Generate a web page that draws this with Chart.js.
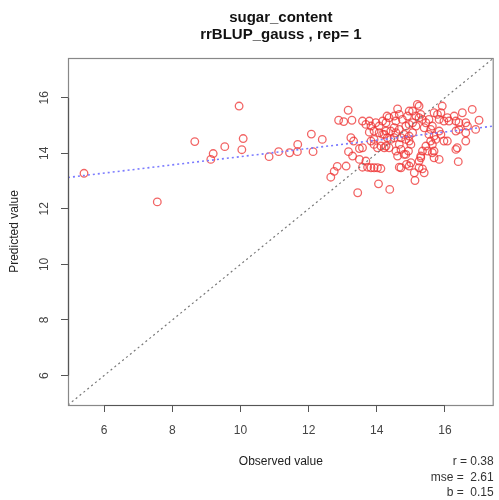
<!DOCTYPE html>
<html>
<head>
<meta charset="utf-8">
<script src="https://cdn.jsdelivr.net/npm/chart.js"></script>
<style>
  body { margin: 0; background: #fff; }
</style>
</head>
<body>
<canvas id="myChart" width="499" height="500"></canvas>
<script>
// values
const observed = [
  5.41, 7.56, 8.66, 9.13, 9.20, 9.54, 9.96, 10.08, 10.04,
  10.84, 11.12, 11.44, 11.68, 11.67, 12.08, 12.13, 12.40, 12.88, 13.03, 13.16, 13.10, 12.84, 12.75, 12.65, 13.17,
  13.27, 13.24, 13.32, 13.49, 13.58,
  13.58, 13.73, 13.83, 13.92, 14.02, 14.12,
  13.68, 13.44, 14.05, 14.38, 14.66,
  14.87, 14.95, 15.00, 15.10, 15.12, 15.24, 15.29, 15.39,
  14.85, 14.93, 14.66, 14.71, 14.36, 14.27, 14.22,
  13.92, 14.02, 14.12,
  13.78, 13.83, 13.97, 14.07, 14.17, 14.27, 14.30,
  13.92, 14.07, 14.17, 14.27,
  14.41, 14.51, 14.56, 14.66,
  14.61, 14.66, 14.75, 14.90, 14.95, 15.05, 15.19, 15.24, 15.15, 15.24,
  14.85, 14.95, 15.05, 15.15,
  14.80, 14.95, 15.05, 14.95, 15.00,
  15.29, 15.34, 15.44, 15.53, 15.39, 15.58, 15.63,
  15.68, 15.78, 15.88, 15.92, 15.83, 15.97, 16.07, 16.12,
  15.53, 15.68, 15.73, 15.58, 15.63, 15.44, 15.49, 15.68,
  15.97, 16.07, 15.83, 15.88,
  16.27, 16.32, 16.41, 16.51, 16.61, 16.66, 16.80, 17.00,
  16.32, 16.41, 16.61, 16.90,
  16.61, 16.36, 16.32, 16.39,
  15.83, 15.68, 15.24, 15.34,
  13.58, 13.68, 13.78,
  14.22, 14.31, 14.41, 14.51,
  14.85, 14.71,
  14.56, 14.51, 14.36,
  13.83, 13.92,
  13.49, 13.29,
  14.56, 14.61,
  14.80, 14.71, 15.29, 15.34, 15.63
];
const predicted = [
  13.28, 12.25, 14.42, 13.78, 13.99, 14.24, 15.70, 14.53, 14.13,
  13.88, 14.06, 14.02, 14.32, 14.06, 14.69, 14.06, 14.50, 15.19, 15.14, 15.55, 13.54, 13.53, 13.35, 13.14, 14.06,
  15.19, 14.56, 14.44, 14.17, 14.20,
  13.50, 13.50, 13.48, 13.48, 13.48, 13.45,
  13.72, 12.58, 12.90, 12.70, 13.50,
  13.60, 13.54, 13.66, 13.30, 13.02, 13.72, 13.90, 13.30,
  13.96, 14.08, 14.32, 14.14, 14.20, 14.26, 14.20,
  14.32, 14.20, 14.26,
  14.76, 14.98, 15.10, 14.98, 15.16, 15.10, 15.34,
  14.80, 14.74, 14.68, 14.80,
  14.80, 14.92, 14.74, 14.86,
  15.60, 15.40, 15.22, 15.34, 15.52, 15.52, 15.76, 15.70, 15.34, 15.28,
  14.98, 15.04, 15.10, 14.98,
  14.68, 14.62, 14.74, 14.44, 14.32,
  15.40, 15.22, 15.10, 15.22, 14.92, 14.86, 14.98,
  15.46, 15.40, 15.46, 15.70, 15.22, 15.16, 15.28, 15.16,
  14.68, 14.62, 14.50, 14.44, 14.32, 14.26, 14.08, 14.08,
  14.44, 14.44, 14.80, 14.68,
  15.34, 15.16, 15.10, 15.46, 15.10, 14.98, 15.58, 15.19,
  14.80, 14.86, 14.74, 14.86,
  14.44, 14.20, 14.14, 13.70,
  13.78, 13.84, 13.48, 13.44,
  15.16, 15.04, 15.16,
  14.68, 14.56, 14.50, 14.56,
  14.50, 14.56,
  15.16, 15.34, 15.28,
  14.44, 14.50,
  13.78, 13.90,
  14.08, 13.90,
  13.96, 13.48, 13.84, 14.08, 14.02
];

const axisMin = 4.94;
const axisMax = 17.43;
const xTicks = [6, 8, 10, 12, 14, 16];
const yTicks = [6, 8, 10, 12, 14, 16];

// dotted lines: identity and fitted line (ends)
const diagX = [axisMin, axisMax];
const diagY = [axisMin, axisMax];
const fitX = [axisMin, axisMax];
const fitY = [13.13, 14.98];

const titleLines = ['sugar_content', 'rrBLUP_gauss , rep= 1'];
const statLines = ['r = 0.38', 'mse =  2.61', 'b =  0.15'];

const FONT = '"Liberation Sans", Arial, Helvetica, sans-serif';

const toPoints = (xs, ys) => xs.map((x, i) => ({ x: x, y: ys[i] }));

// draws the box, the y tick labels, the titles and the stats text
const rPlotExtras = {
  id: 'rPlotExtras',
  afterDraw(chart) {
    const ctx = chart.ctx;
    const area = chart.chartArea;
    const xs = chart.scales.x;
    const ys = chart.scales.y;
    ctx.save();

    // plot box
    ctx.strokeStyle = '#888';
    ctx.lineWidth = 1.2;
    ctx.strokeRect(area.left + 0.5, area.top + 0.5, area.right - area.left - 1, area.bottom - area.top);

    // axis lines between the first and last tick
    ctx.strokeStyle = '#555';
    ctx.beginPath();
    ctx.moveTo(xs.getPixelForValue(xTicks[0]), area.bottom + 0.5);
    ctx.lineTo(xs.getPixelForValue(xTicks[xTicks.length - 1]), area.bottom + 0.5);
    ctx.moveTo(area.left + 0.5, ys.getPixelForValue(yTicks[0]));
    ctx.lineTo(area.left + 0.5, ys.getPixelForValue(yTicks[yTicks.length - 1]));
    ctx.stroke();

    // y tick labels, rotated like R does
    ctx.fillStyle = '#444';
    ctx.font = '12px ' + FONT;
    ctx.textAlign = 'center';
    ctx.textBaseline = 'middle';
    yTicks.forEach(v => {
      ctx.save();
      ctx.translate(45, ys.getPixelForValue(v));
      ctx.rotate(-Math.PI / 2);
      ctx.fillText(String(v), 0, 0);
      ctx.restore();
    });

    // title
    const cx = (area.left + area.right) / 2;
    ctx.fillStyle = '#111';
    ctx.font = 'bold 15px ' + FONT;
    ctx.fillText(titleLines[0], cx, 18);
    ctx.fillText(titleLines[1], cx, 35);

    // stats, bottom right
    ctx.fillStyle = '#333';
    ctx.font = '12px ' + FONT;
    ctx.textAlign = 'right';
    statLines.forEach((s, i) => {
      ctx.fillText(s, area.right, 462 + i * 15.5);
    });

    ctx.restore();
  }
};

const ctx = document.getElementById('myChart').getContext('2d');

new Chart(ctx, {
  type: 'scatter',
  data: {
    datasets: [
      {
        label: 'identity',
        data: toPoints(diagX, diagY),
        showLine: true,
        borderColor: '#777',
        borderWidth: 1.2,
        borderDash: [2, 3],
        pointRadius: 0,
        fill: false
      },
      {
        label: 'fit',
        data: toPoints(fitX, fitY),
        showLine: true,
        borderColor: '#7b7bff',
        borderWidth: 1.6,
        borderDash: [2, 3],
        pointRadius: 0,
        fill: false
      },
      {
        label: 'points',
        data: toPoints(observed, predicted),
        pointStyle: 'circle',
        pointRadius: 3.8,
        borderWidth: 1.3,
        borderColor: 'rgba(238, 50, 50, 0.75)',
        backgroundColor: 'rgba(0, 0, 0, 0)'
      }
    ]
  },
  options: {
    responsive: false,
    animation: false,
    layout: { padding: { top: 58, right: 4, left: 0, bottom: 0 } },
    plugins: {
      legend: { display: false },
      tooltip: { enabled: false }
    },
    scales: {
      x: {
        type: 'linear',
        min: axisMin,
        max: axisMax,
        afterBuildTicks: (scale) => { scale.ticks = xTicks.map(v => ({ value: v })); },
        afterFit: (scale) => { scale.height = 95; },
        grid: { drawOnChartArea: false, color: '#555', tickLength: 7 },
        border: { display: false },
        ticks: { color: '#444', font: { family: FONT, size: 12 }, padding: 11, maxRotation: 0 },
        title: {
          display: true,
          text: 'Observed value',
          color: '#222',
          font: { family: FONT, size: 12 },
          padding: { top: 0, bottom: 31 }
        }
      },
      y: {
        type: 'linear',
        min: axisMin,
        max: axisMax,
        afterBuildTicks: (scale) => { scale.ticks = yTicks.map(v => ({ value: v })); },
        afterFit: (scale) => { scale.width = 68; },
        grid: { drawOnChartArea: false, color: '#555', tickLength: 7 },
        border: { display: false },
        ticks: { display: false },
        title: {
          display: true,
          text: 'Predicted value',
          color: '#222',
          font: { family: FONT, size: 12 },
          padding: { top: 7, bottom: 0 }
        }
      }
    }
  },
  plugins: [rPlotExtras]
});
</script>
</body>
</html>
